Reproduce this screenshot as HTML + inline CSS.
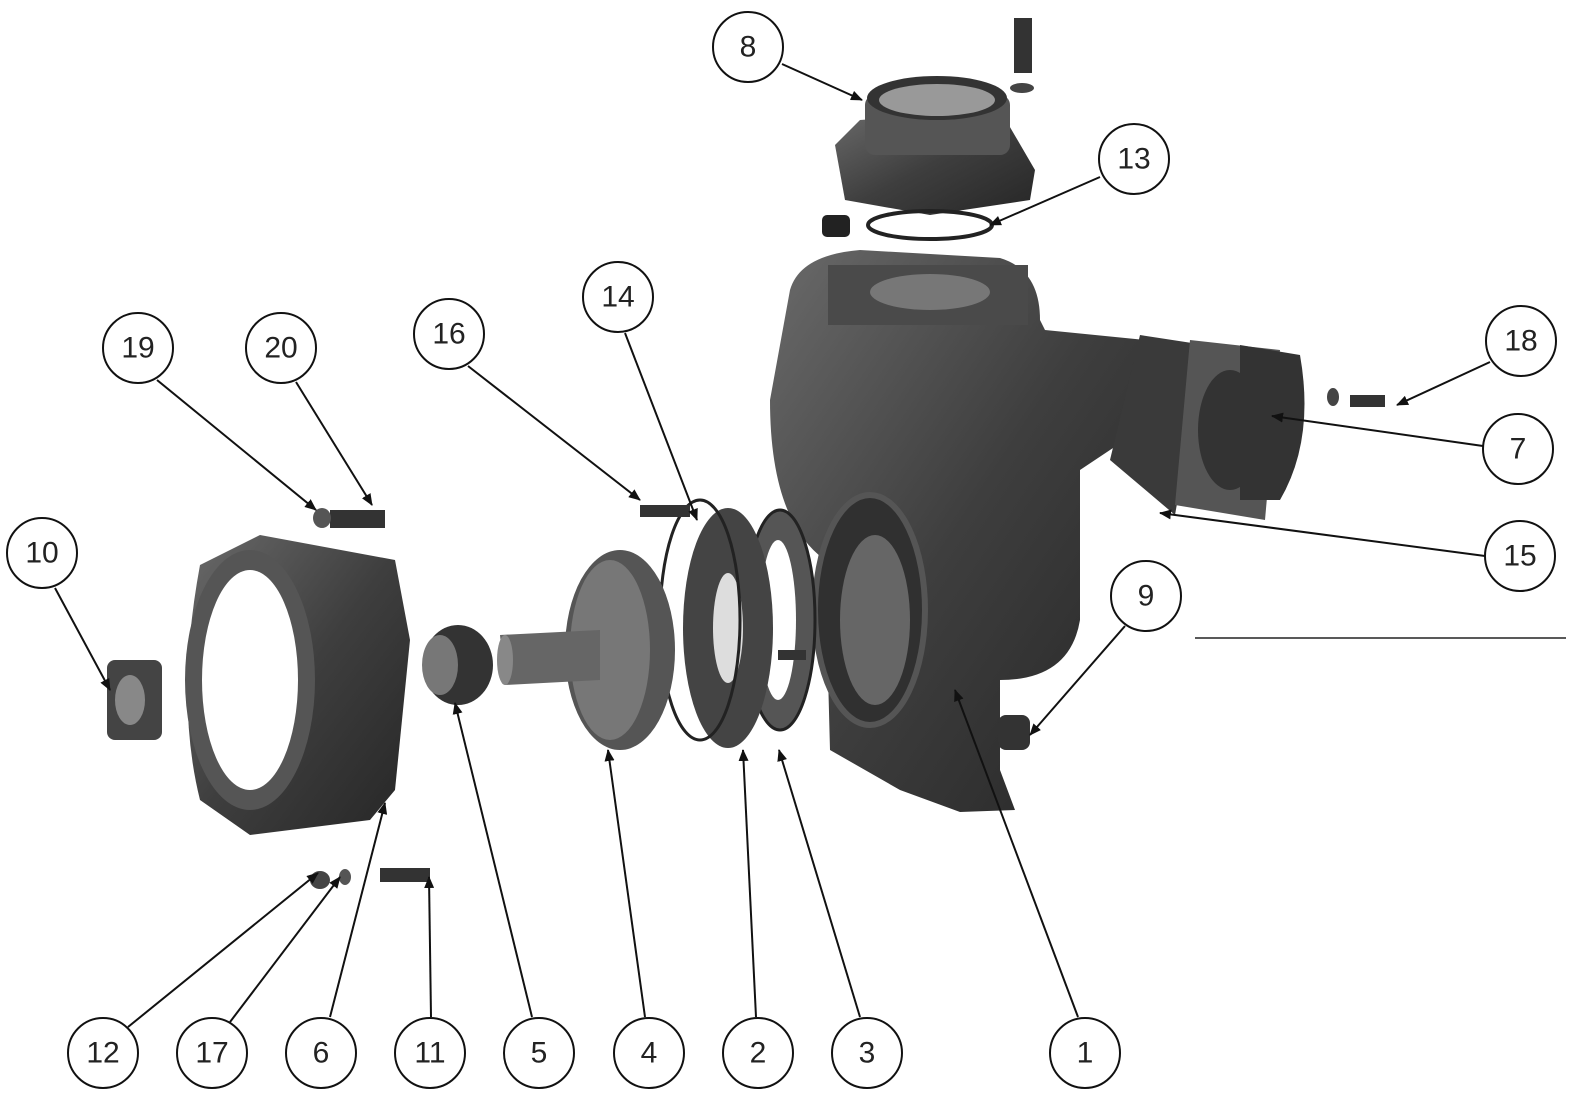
<!DOCTYPE html>
<html><head><meta charset="utf-8">
<style>
html,body{margin:0;padding:0;background:#fff;}
svg{display:block}
text{font-family:"Liberation Sans",sans-serif;font-size:30px;fill:#222;text-anchor:middle;dominant-baseline:central}
</style></head>
<body>
<svg width="1582" height="1110" viewBox="0 0 1582 1110" xmlns="http://www.w3.org/2000/svg">
<defs>
<marker id="a" markerWidth="12" markerHeight="10" refX="11" refY="5" orient="auto" markerUnits="userSpaceOnUse">
<path d="M0,0 L12,5 L0,10 z" fill="#111"/></marker>
<linearGradient id="g" x1="0" y1="0" x2="1" y2="1">
<stop offset="0" stop-color="#6a6a6a"/><stop offset="0.5" stop-color="#3e3e3e"/><stop offset="1" stop-color="#262626"/></linearGradient>
</defs>

<!-- Discharge flange (8) -->
<path d="M835,145 L860,120 L1000,110 L1035,170 L1030,200 L930,215 L845,200 Z" fill="url(#g)"/>
<rect x="865" y="95" width="145" height="60" rx="10" fill="#555"/>
<ellipse cx="937" cy="98" rx="70" ry="22" fill="#333"/>
<ellipse cx="937" cy="100" rx="58" ry="16" fill="#999"/>
<rect x="1014" y="18" width="18" height="55" fill="#333"/>
<ellipse cx="1022" cy="88" rx="12" ry="5" fill="#444"/>
<ellipse cx="930" cy="225" rx="62" ry="14" fill="none" stroke="#222" stroke-width="4"/>
<rect x="822" y="215" width="28" height="22" rx="5" fill="#222"/>

<!-- Main casing (1) -->
<path d="M790,290 Q800,255 860,250 L1000,258 Q1040,270 1040,320 L1045,330 L1145,340 L1140,430 L1080,470 L1080,620 Q1070,680 1000,680 L1000,770 L1015,810 L960,812 L900,790 L830,750 L825,560 Q770,520 770,400 Z" fill="url(#g)"/>
<rect x="828" y="265" width="200" height="60" fill="#4a4a4a"/>
<ellipse cx="930" cy="292" rx="60" ry="18" fill="#777"/>
<ellipse cx="870" cy="610" rx="55" ry="115" fill="#303030" stroke="#555" stroke-width="6"/>
<ellipse cx="875" cy="620" rx="35" ry="85" fill="#666"/>
<!-- suction flange (7,15) -->
<path d="M1110,460 L1140,335 L1205,345 L1175,515 Z" fill="#3a3a3a"/>
<path d="M1175,505 L1190,340 L1280,350 L1265,520 Z" fill="#555"/>
<ellipse cx="1230" cy="430" rx="32" ry="60" fill="#333"/>
<path d="M1240,345 L1300,355 Q1315,440 1280,500 L1240,500 Z" fill="#333"/>
<rect x="1350" y="395" width="35" height="12" fill="#333"/>
<ellipse cx="1333" cy="397" rx="6" ry="9" fill="#444"/>
<!-- plug 9 -->
<rect x="998" y="715" width="32" height="35" rx="8" fill="#333"/>

<!-- gasket 3, wear plate 2, o-ring -->
<ellipse cx="780" cy="620" rx="35" ry="110" fill="#555" stroke="#222" stroke-width="3"/>
<ellipse cx="778" cy="620" rx="18" ry="80" fill="#fff"/>
<ellipse cx="728" cy="628" rx="45" ry="120" fill="#444"/>
<ellipse cx="728" cy="628" rx="15" ry="55" fill="#ddd"/>
<ellipse cx="700" cy="620" rx="40" ry="120" fill="none" stroke="#222" stroke-width="3"/>
<rect x="778" y="650" width="28" height="10" fill="#333"/>
<!-- impeller 4 -->
<ellipse cx="620" cy="650" rx="55" ry="100" fill="#555"/>
<ellipse cx="610" cy="650" rx="40" ry="90" fill="#777"/>
<path d="M500,635 L600,630 L600,680 L505,685 Z" fill="#666"/>
<ellipse cx="505" cy="660" rx="8" ry="25" fill="#888"/>
<rect x="640" y="505" width="50" height="12" fill="#333"/>
<!-- seal 5 -->
<ellipse cx="458" cy="665" rx="35" ry="40" fill="#333"/>
<ellipse cx="440" cy="665" rx="18" ry="30" fill="#777"/>

<!-- bracket 6 -->
<path d="M200,565 L260,535 L395,560 L410,640 L395,790 L370,820 L250,835 L200,800 Q175,700 200,565 Z" fill="url(#g)"/>
<ellipse cx="250" cy="680" rx="65" ry="130" fill="#555"/>
<ellipse cx="250" cy="680" rx="48" ry="110" fill="#fff"/>
<rect x="330" y="510" width="55" height="18" fill="#333"/>
<ellipse cx="322" cy="518" rx="9" ry="10" fill="#555"/>
<rect x="380" y="868" width="50" height="14" fill="#333"/>
<ellipse cx="320" cy="880" rx="10" ry="9" fill="#444"/>
<ellipse cx="345" cy="877" rx="6" ry="8" fill="#555"/>
<!-- coupling 10 -->
<rect x="107" y="660" width="55" height="80" rx="8" fill="#444"/>
<ellipse cx="130" cy="700" rx="15" ry="25" fill="#888"/>

<!-- rule -->
<line x1="1195" y1="638" x2="1566" y2="638" stroke="#222" stroke-width="1.5"/>

<!-- leaders -->
<g stroke="#111" stroke-width="2" fill="none" marker-end="url(#a)">
<line x1="782" y1="64" x2="862" y2="100"/>
<line x1="1100" y1="177" x2="990" y2="225"/>
<line x1="625" y1="333" x2="697" y2="520"/>
<line x1="468" y1="366" x2="640" y2="500"/>
<line x1="157" y1="380" x2="316" y2="510"/>
<line x1="296" y1="382" x2="372" y2="505"/>
<line x1="1490" y1="362" x2="1397" y2="405"/>
<line x1="1483" y1="446" x2="1272" y2="416"/>
<line x1="1485" y1="556" x2="1160" y2="513"/>
<line x1="1125" y1="626" x2="1030" y2="735"/>
<line x1="55" y1="588" x2="110" y2="690"/>
<line x1="128" y1="1027" x2="318" y2="873"/>
<line x1="230" y1="1022" x2="340" y2="877"/>
<line x1="330" y1="1017" x2="385" y2="803"/>
<line x1="431" y1="1017" x2="429" y2="877"/>
<line x1="532" y1="1017" x2="455" y2="703"/>
<line x1="645" y1="1017" x2="608" y2="750"/>
<line x1="756" y1="1017" x2="743" y2="750"/>
<line x1="860" y1="1017" x2="779" y2="750"/>
<line x1="1078" y1="1017" x2="955" y2="690"/>
</g>

<!-- callouts -->
<g fill="#fff" stroke="#111" stroke-width="2">
<circle cx="748" cy="47" r="35"/><circle cx="1134" cy="159" r="35"/>
<circle cx="618" cy="297" r="35"/><circle cx="449" cy="334" r="35"/>
<circle cx="138" cy="348" r="35"/><circle cx="281" cy="348" r="35"/>
<circle cx="1521" cy="341" r="35"/><circle cx="1518" cy="449" r="35"/>
<circle cx="1520" cy="556" r="35"/><circle cx="1146" cy="596" r="35"/>
<circle cx="42" cy="553" r="35"/>
<circle cx="103" cy="1053" r="35"/><circle cx="212" cy="1053" r="35"/>
<circle cx="321" cy="1053" r="35"/><circle cx="430" cy="1053" r="35"/>
<circle cx="539" cy="1053" r="35"/><circle cx="649" cy="1053" r="35"/>
<circle cx="758" cy="1053" r="35"/><circle cx="867" cy="1053" r="35"/>
<circle cx="1085" cy="1053" r="35"/>
</g>
<text x="748" y="47">8</text><text x="1134" y="159">13</text>
<text x="618" y="297">14</text><text x="449" y="334">16</text>
<text x="138" y="348">19</text><text x="281" y="348">20</text>
<text x="1521" y="341">18</text><text x="1518" y="449">7</text>
<text x="1520" y="556">15</text><text x="1146" y="596">9</text>
<text x="42" y="553">10</text>
<text x="103" y="1053">12</text><text x="212" y="1053">17</text>
<text x="321" y="1053">6</text><text x="430" y="1053">11</text>
<text x="539" y="1053">5</text><text x="649" y="1053">4</text>
<text x="758" y="1053">2</text><text x="867" y="1053">3</text>
<text x="1085" y="1053">1</text>
</svg>
</body></html>
